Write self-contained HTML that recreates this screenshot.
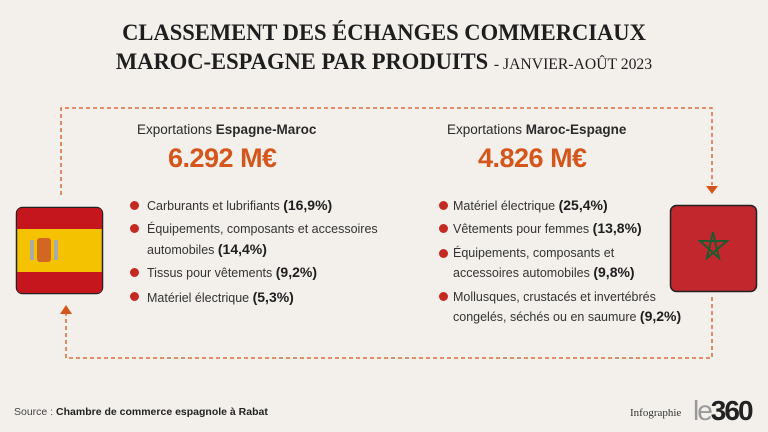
<!DOCTYPE html>
<html><head><meta charset="utf-8"><style>
body{margin:0;width:768px;height:432px;background:#f3f0eb;position:relative;overflow:hidden;font-family:"Liberation Sans",sans-serif;color:#2a2a2a}
.a{position:absolute;white-space:nowrap}
.t{font-family:"Liberation Serif",serif;font-weight:bold;font-size:23px;color:#1e1e1e;left:0;width:768px;text-align:center;transform:scaleX(.98)}
.h{font-size:13.5px;color:#2a2a2a}
.n{font-size:27px;font-weight:bold;color:#d4561c;letter-spacing:-.5px}
.li{font-size:12.5px;color:#333;line-height:16px}
.li b{font-size:14px;color:#1e1e1e}
.dot{position:absolute;width:9px;height:9px;border-radius:50%;background:#c52a22}
</style></head><body>
<div class="a t" style="top:20px">CLASSEMENT DES ÉCHANGES COMMERCIAUX</div>
<div class="a t" style="top:49px">MAROC-ESPAGNE PAR PRODUITS <span style="font-size:16px;font-weight:normal">- JANVIER-AOÛT 2023</span></div>
<svg class="a" style="left:0;top:0" width="768" height="432">
<g stroke="#d4561c" stroke-width="1.3" stroke-dasharray="4,3" fill="none">
<path d="M61 195 V108 H712 V185"/>
<path d="M712 297 V358 H66 V313"/>
</g>
<path d="M706 186 L718 186 L712 194Z" fill="#d4561c"/>
<path d="M60 314 L72 314 L66 305Z" fill="#d4561c"/>
<rect x="16.5" y="207.5" width="86" height="86" rx="6" fill="#f5c200" stroke="#222" stroke-width="1.5"/>
<path d="M17 213 Q17 208 22 208 H97 Q102 208 102 213 V229 H17Z" fill="#c4161c"/>
<path d="M17 272 H102 V288 Q102 293 97 293 H22 Q17 293 17 288Z" fill="#c4161c"/>
<rect x="37" y="238" width="14" height="24" rx="3" fill="#c8502a" opacity=".8"/>
<rect x="30" y="240" width="4" height="20" fill="#aaa"/><rect x="54" y="240" width="4" height="20" fill="#aaa"/>
<rect x="670.5" y="205.5" width="86" height="86" rx="6" fill="#c1272d" stroke="#222" stroke-width="1.5"/>
<polygon points="713,232 719,258 700,241 727,241 707,258" fill="none" stroke="#1e5a2e" stroke-width="2"/>
</svg>
<div class="a h" style="left:137px;top:122px">Exportations <b>Espagne-Maroc</b></div>
<div class="a n" style="left:168px;top:143px">6.292 M€</div>
<div class="a h" style="left:447px;top:122px">Exportations <b>Maroc-Espagne</b></div>
<div class="a n" style="left:478px;top:143px">4.826 M€</div>

<div class="dot" style="left:130px;top:201px"></div>
<div class="dot" style="left:130px;top:224px"></div>
<div class="dot" style="left:130px;top:268px"></div>
<div class="dot" style="left:130px;top:292px"></div>
<div class="a li" style="left:147px;top:197px">Carburants et lubrifiants <b>(16,9%)</b></div>
<div class="a li" style="left:147px;top:221px">Équipements, composants et accessoires</div>
<div class="a li" style="left:147px;top:241px">automobiles <b>(14,4%)</b></div>
<div class="a li" style="left:147px;top:264px">Tissus pour vêtements <b>(9,2%)</b></div>
<div class="a li" style="left:147px;top:289px">Matériel électrique <b>(5,3%)</b></div>

<div class="dot" style="left:439px;top:201px"></div>
<div class="dot" style="left:439px;top:224px"></div>
<div class="dot" style="left:439px;top:249px"></div>
<div class="dot" style="left:439px;top:292px"></div>
<div class="a li" style="left:453px;top:197px">Matériel électrique <b>(25,4%)</b></div>
<div class="a li" style="left:453px;top:220px">Vêtements pour femmes <b>(13,8%)</b></div>
<div class="a li" style="left:453px;top:245px">Équipements, composants et</div>
<div class="a li" style="left:453px;top:264px">accessoires automobiles <b>(9,8%)</b></div>
<div class="a li" style="left:453px;top:289px">Mollusques, crustacés et invertébrés</div>
<div class="a li" style="left:453px;top:308px">congelés, séchés ou en saumure <b>(9,2%)</b></div>

<div class="a" style="left:14px;top:406px;font-size:10.5px;color:#444">Source : <b style="color:#222">Chambre de commerce espagnole à Rabat</b></div>
<div class="a" style="left:630px;top:407px;font-family:'Liberation Serif',serif;font-size:11px;color:#333">Infographie</div>
<div class="a" style="left:693px;top:395px;font-size:28px;font-weight:bold;color:#222;letter-spacing:-2px"><span style="color:#999;font-weight:normal">le</span>360</div>
</body></html>
